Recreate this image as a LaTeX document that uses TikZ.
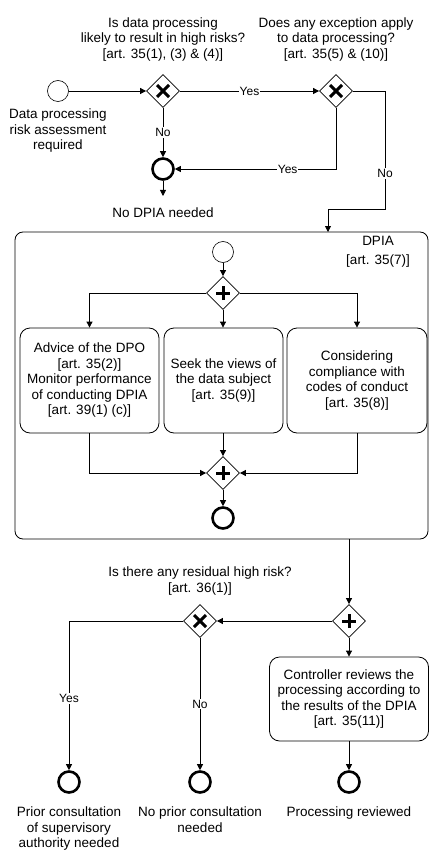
\documentclass[tikz,border=0pt]{standalone}
\usepackage{fontspec}
\setmainfont{Liberation Sans}
\usetikzlibrary{shapes.geometric, arrows.meta, positioning, calc}

\begin{document}
\begin{tikzpicture}[x=1pt, y=-1pt,
  font=\fontsize{13.5}{15.5}\selectfont,
  flow/.style={draw, line width=0.8pt, -{Triangle[length=6pt, width=6pt]}},
  startevent/.style={circle, draw, line width=0.6pt, minimum size=21pt, inner sep=0pt},
  endevent/.style={circle, draw, line width=2.6pt, minimum size=21pt, inner sep=0pt},
  gate/.style={diamond, draw, line width=0.8pt, minimum width=33pt, minimum height=33pt, inner sep=0pt},
  xgate/.style={gate, path picture={\draw[line width=3pt] (path picture bounding box.center) ++(-6pt,-6pt) -- ++(12pt,12pt) ++(-12pt,0pt) -- ++(12pt,-12pt);}},
  pgate/.style={gate, path picture={\draw[line width=3pt] (path picture bounding box.center) ++(-7pt,0pt) -- ++(14pt,0pt) ++(-7pt,-7pt) -- ++(0pt,14pt);}},
  task/.style={draw, rounded corners=10pt, line width=0.8pt, align=center, inner sep=2pt},
  edgelabel/.style={fill=white, inner sep=1pt, font=\fontsize{12}{14}\selectfont},
  caption/.style={align=center, inner sep=0pt}]
\useasboundingbox (0,0) rectangle (429,850);

% Risk assessment
\node[startevent] (start) at (58,91) {};
\node[caption, below=7pt of start] (startlabel) {Data processing\\risk assessment\\required};
\node[xgate] (riskgate) at (163,91) {};
\node[caption, above=13pt of riskgate] (risklabel) {Is data processing\\likely to result in high risks?\\{}[art. 35(1), (3) \& (4)]};
\node[xgate] (exgate) at (336,91) {};
\node[caption, above=13pt of exgate] (exlabel) {Does any exception apply\\to data processing?\\{}[art. 35(5) \& (10)]};
\node[endevent] (nodpia) at (163,169) {};
\coordinate (nodpiaout) at (163,196);
\node[caption] (nodpialabel) at (163,213) {No DPIA needed};

\draw[flow] (start) -- (riskgate);
\draw[flow] (riskgate) -- node[edgelabel]{Yes} (exgate);
\draw[flow] (riskgate) -- node[edgelabel]{No} (nodpia);
\draw[flow] (exgate.south) |- node[edgelabel, pos=0.65]{Yes} (nodpia.east);
\draw[flow] (nodpia) -- (nodpiaout);

% DPIA
\node[draw, rounded corners=8pt, line width=0.8pt, minimum width=413pt, minimum height=307pt] (dpia) at (221.5,385.5) {};
\node[caption] (dpialabel) at (378,252) {DPIA\\[3pt]{}[art. 35(7)]};
\coordinate (nobend) at (385,209);
\coordinate (dpiain) at (328,232);
\draw[flow] (exgate.east) -| node[edgelabel, pos=0.85]{No} (nobend) -| (dpiain);

\node[startevent] (dpiastart) at (223,252) {};
\node[pgate] (splitgate) at (223,293) {};
\node[task, minimum width=139pt, minimum height=105pt] (dpotask) at (89.5,380.5) {Advice of the DPO\\{}[art. 35(2)]\\Monitor performance\\of conducting DPIA\\{}[art. 39(1) (c)]};
\node[task, minimum width=119pt, minimum height=105pt] (viewtask) at (223.5,380.5) {Seek the views of\\the data subject\\{}[art. 35(9)]};
\node[task, minimum width=140pt, minimum height=105pt] (codetask) at (357,380.5) {Considering\\compliance with\\codes of conduct\\{}[art. 35(8)]};
\node[pgate] (joingate) at (223,473) {};
\node[endevent] (dpiaend) at (223,518) {};

\draw[flow] (dpiastart) -- (splitgate);
\draw[flow] (splitgate.west) -| (dpotask.north);
\draw[flow] (splitgate) -- (splitgate |- viewtask.north);
\draw[flow] (splitgate.east) -| (codetask.north);
\draw[flow] (dpotask.south) |- (joingate.west);
\draw[flow] (viewtask.south -| joingate) -- (joingate);
\draw[flow] (codetask.south) |- (joingate.east);
\draw[flow] (joingate) -- (dpiaend);

% Residual risk
\node[pgate] (reviewgate) at (349,621) {};
\node[xgate] (residualgate) at (200,621) {};
\node[caption, above=9pt of residualgate] (residuallabel) {Is there any residual high risk?\\{}[art. 36(1)]};
\node[task, minimum width=159pt, minimum height=84pt] (reviewtask) at (349,699) {Controller reviews the\\processing according to\\the results of the DPIA\\{}[art. 35(11)]};
\node[endevent] (consultend) at (69,782) {};
\node[endevent] (noconsultend) at (200,782) {};
\node[endevent] (reviewend) at (349,782) {};
\node[caption, below=13pt of consultend] (consultlabel) {Prior consultation\\of supervisory\\authority needed};
\node[caption, below=13pt of noconsultend] (noconsultlabel) {No prior consultation\\needed};
\node[caption, below=13pt of reviewend] (reviewlabel) {Processing reviewed};

\draw[flow] (dpia.south -| reviewgate) -- (reviewgate);
\draw[flow] (reviewgate) -- (residualgate);
\draw[flow] (residualgate.west) -| node[edgelabel, pos=0.76]{Yes} (consultend.north);
\draw[flow] (residualgate) -- node[edgelabel]{No} (noconsultend);
\draw[flow] (reviewgate) -- (reviewtask);
\draw[flow] (reviewtask) -- (reviewend);
\end{tikzpicture}
\end{document}
